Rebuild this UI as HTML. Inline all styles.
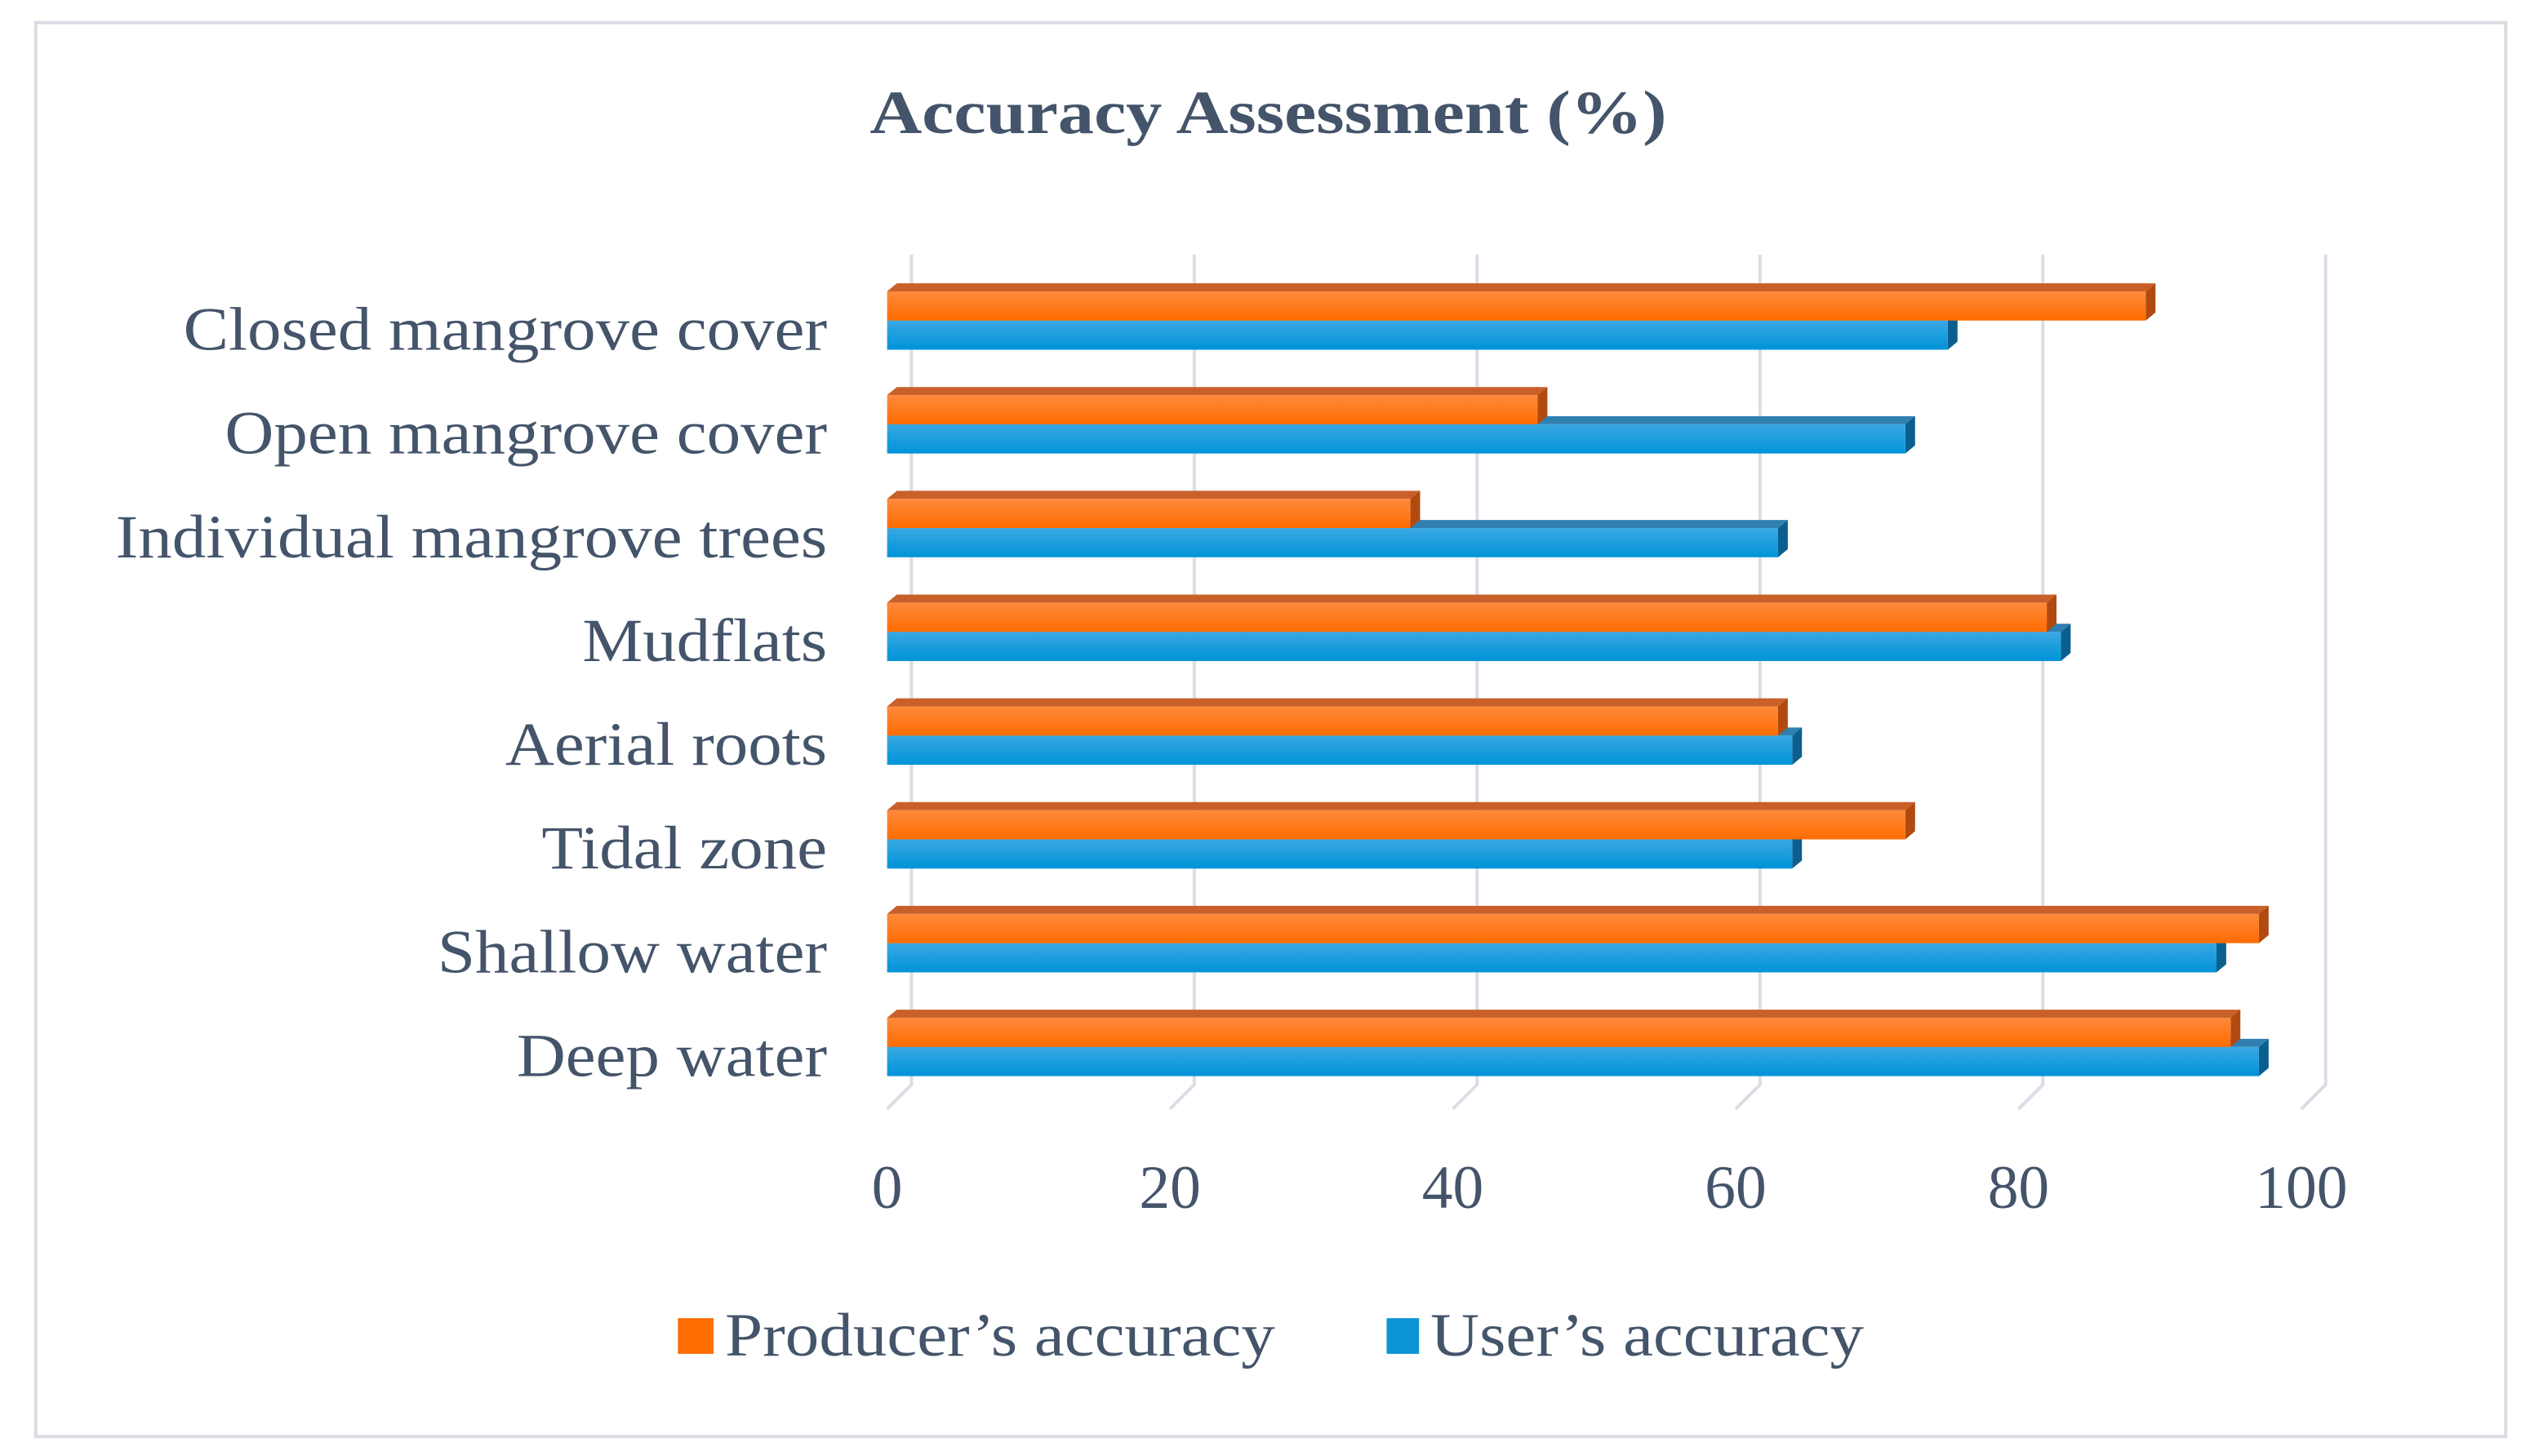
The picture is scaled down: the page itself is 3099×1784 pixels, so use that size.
<!DOCTYPE html>
<html><head><meta charset="utf-8"><style>
html,body{margin:0;padding:0;background:#fff}
svg{display:block}
text{font-family:"Liberation Serif",serif;fill:#44546a}
</style></head><body>
<svg width="3099" height="1784" viewBox="0 0 1560 898" preserveAspectRatio="none" xmlns="http://www.w3.org/2000/svg">
<defs>
<linearGradient id="og" x1="0" y1="0" x2="0" y2="1"><stop offset="0" stop-color="#ff8a3d"/><stop offset="1" stop-color="#ff6c00"/></linearGradient>
<linearGradient id="bg" x1="0" y1="0" x2="0" y2="1"><stop offset="0" stop-color="#3aa8e2"/><stop offset="1" stop-color="#0093d8"/></linearGradient>
</defs>
<rect x="22" y="14" width="1523" height="872" fill="#fff" stroke="#d9dde3" stroke-width="2"/>
<g transform="translate(782,0) scale(1.17,1)">
<text x="0" y="82" text-anchor="middle" font-size="38" font-weight="bold">Accuracy Assessment (%)</text>
</g>
<g id="grid"></g>
<g id="bars"></g>
<g id="ticks"></g>
<g id="labels" transform="translate(510,0) scale(1.1,1)"></g>
<g id="legend">
<rect x="418" y="813" width="22" height="22" fill="#ff6c00"/>
<g transform="translate(447,0) scale(1.1,1)">
<text x="0" y="836" font-size="38">Producer’s accuracy</text>
</g>
<rect x="855" y="813" width="20" height="22" fill="#0b94d6"/>
<g transform="translate(882,0) scale(1.1,1)">
<text x="0" y="836" font-size="38">User’s accuracy</text>
</g>
</g>
</svg>
<script>
const categories = ["Closed mangrove cover","Open mangrove cover","Individual mangrove trees","Mudflats","Aerial roots","Tidal zone","Shallow water","Deep water"];
const producer = [89,46,37,82,63,72,97,95];
const user = [75,72,63,83,64,64,94,97];
const ticks = [0,20,40,60,80,100];

const NS="http://www.w3.org/2000/svg";
const X0=547, UNIT=8.72, ROW0=179.7, ROWH=64, BARH=18, DX=6, DY=5, BACK=15;
const x = v => X0 + v*UNIT;
function mk(tag, attrs, parent){const e=document.createElementNS(NS,tag);for(const k in attrs)e.setAttribute(k,attrs[k]);parent.appendChild(e);return e;}
const grid=document.getElementById('grid'), bars=document.getElementById('bars'), labels=document.getElementById('labels'), tickG=document.getElementById('ticks');

ticks.forEach(t=>{
  const gx=x(t);
  const gl=mk('path',{d:`M${gx+BACK} 157 L${gx+BACK} 669 L${gx} 684`,stroke:"#d9dde6","stroke-width":2,fill:"none"},grid);
  
  
  const tl=mk('text',{x:gx,y:745,"text-anchor":"middle","font-size":38},tickG);
  tl.textContent=t;
  
  
});

function bar(v, top, fill, side, topc, name){
  const g=mk('g',{},bars);
  
  
  const w=x(v)-X0;
  mk('polygon',{points:`${X0},${top} ${X0+DX},${top-DY} ${X0+w+DX},${top-DY} ${X0+w},${top}`,fill:topc},g);
  mk('polygon',{points:`${X0+w},${top} ${X0+w+DX},${top-DY} ${X0+w+DX},${top+BARH-DY} ${X0+w},${top+BARH}`,fill:side},g);
  mk('rect',{x:X0,y:top,width:w,height:BARH,fill:fill},g);
}

categories.forEach((c,i)=>{
  const top=ROW0+i*ROWH;
  bar(user[i], top+BARH, "url(#bg)", "#0a5f8e", "#2f7fb0", 'bar-user-'+i);
  bar(producer[i], top, "url(#og)", "#b04a10", "#c9602a", 'bar-producer-'+i);
  const t=mk('text',{x:0,y:top+BARH+18,"text-anchor":"end","font-size":38},labels);
  t.textContent=c;
  
  
});
</script>
</body></html>
